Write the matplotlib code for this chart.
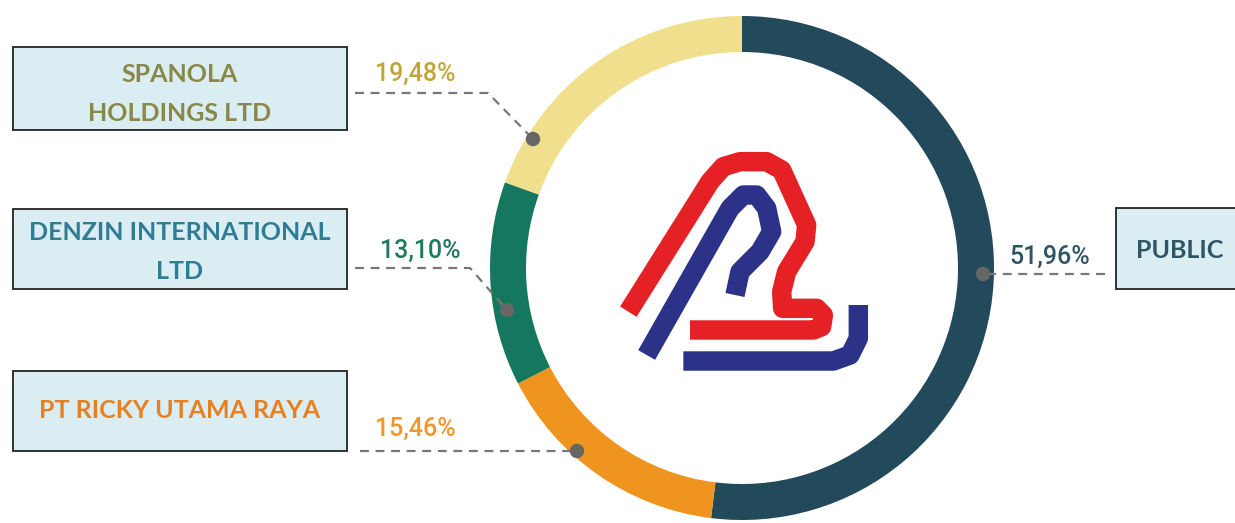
import numpy as np
import matplotlib.pyplot as plt
from matplotlib.patches import Rectangle, Circle

# =========================
# Data
# =========================
holders = ["PUBLIC", "PT RICKY UTAMA RAYA", "DENZIN INTERNATIONAL\nLTD", "SPANOLA\nHOLDINGS LTD"]
shares = [51.96, 15.46, 13.10, 19.48]
ring_colors = ["#234a5b", "#ef951f", "#16775f", "#f0df8c"]
name_colors = ["#2d5565", "#e8801f", "#2f7d95", "#8a8848"]
pct_colors = ["#2d5565", "#f0962a", "#1f7a5c", "#c2a53a"]

pct_labels = [f"{v:.2f}%".replace(".", ",") for v in shares]

# =========================
# Layout (pixel space, y down)
# =========================
W, H = 1235, 523
cx, cy, R, ring_w = 742, 268, 252, 36

fig = plt.figure(figsize=(W / 100, H / 100), dpi=100)
ax = fig.add_axes([0, 0, 1, 1])

ax.pie(shares, colors=ring_colors, radius=R, center=(cx, cy),
       startangle=-90, counterclock=True,
       wedgeprops=dict(width=ring_w, linewidth=0))

ax.set_xlim(0, W)
ax.set_ylim(H, 0)
ax.set_aspect("equal")
ax.axis("off")

# label boxes: x0, y0, x1, y1
boxes = [(1116, 208, 1250, 289), (13, 371, 347, 451), (13, 209, 347, 289), (13, 47, 347, 130)]
name_pos = [(1180, 251), (180, 411), (180, 252), (180, 94)]
pct_pos = [(1050, 257), (415, 429), (420, 251), (415, 74)]
dots = [(983, 274), (577, 451), (507, 310), (533, 139)]
leaders = [
    [(1105, 274)],
    [(360, 451)],
    [(355, 268), (470, 268)],
    [(355, 93), (488, 93)],
]

for i in range(len(shares)):
    x0, y0, x1, y1 = boxes[i]
    ax.add_patch(Rectangle((x0, y0), x1 - x0, y1 - y0, facecolor="#daedf3",
                           edgecolor="#222222", linewidth=1.3, zorder=2))
    ax.text(name_pos[i][0], name_pos[i][1], holders[i], ha="center", va="center",
            color=name_colors[i], fontsize=18, fontweight="bold", family="Lato",
            linespacing=1.85, zorder=3)
    ax.text(pct_pos[i][0], pct_pos[i][1], pct_labels[i], ha="center", va="center",
            color=pct_colors[i], fontsize=18, fontweight="medium", family="Roboto", zorder=3)

    pts = leaders[i] + [dots[i]]
    ax.plot([p[0] for p in pts], [p[1] for p in pts], color="#777777",
            linestyle=(0, (4, 3)), linewidth=1.6, zorder=3)
    ax.add_patch(Circle(dots[i], 6.5, color="#666666", zorder=4))

# =========================
# Logo in the middle
# =========================
def logo_pt(zx, zy):
    return 600 + zx / 3, 145 + zy / 3

red_path = [(85, 500), (330, 110), (370, 65), (420, 50), (500, 50), (545, 75), (620, 240),
            (615, 290), (560, 380), (545, 440), (548, 490), (650, 490), (670, 510),
            (665, 545), (640, 555), (270, 555)]
blue_path1 = [(140, 630), (390, 190), (430, 150), (470, 150), (500, 190), (515, 260),
              (480, 320), (420, 380), (405, 450)]
blue_path2 = [(250, 648), (700, 648), (750, 630), (775, 580), (775, 480)]

for path, col in [(red_path, "#e52125"), (blue_path1, "#2b3288"), (blue_path2, "#2b3288")]:
    pts = [logo_pt(*p) for p in path]
    ax.plot([p[0] for p in pts], [p[1] for p in pts], color=col, linewidth=14,
            solid_joinstyle="round", solid_capstyle="butt", zorder=5)

plt.savefig("out.png", dpi=100)
